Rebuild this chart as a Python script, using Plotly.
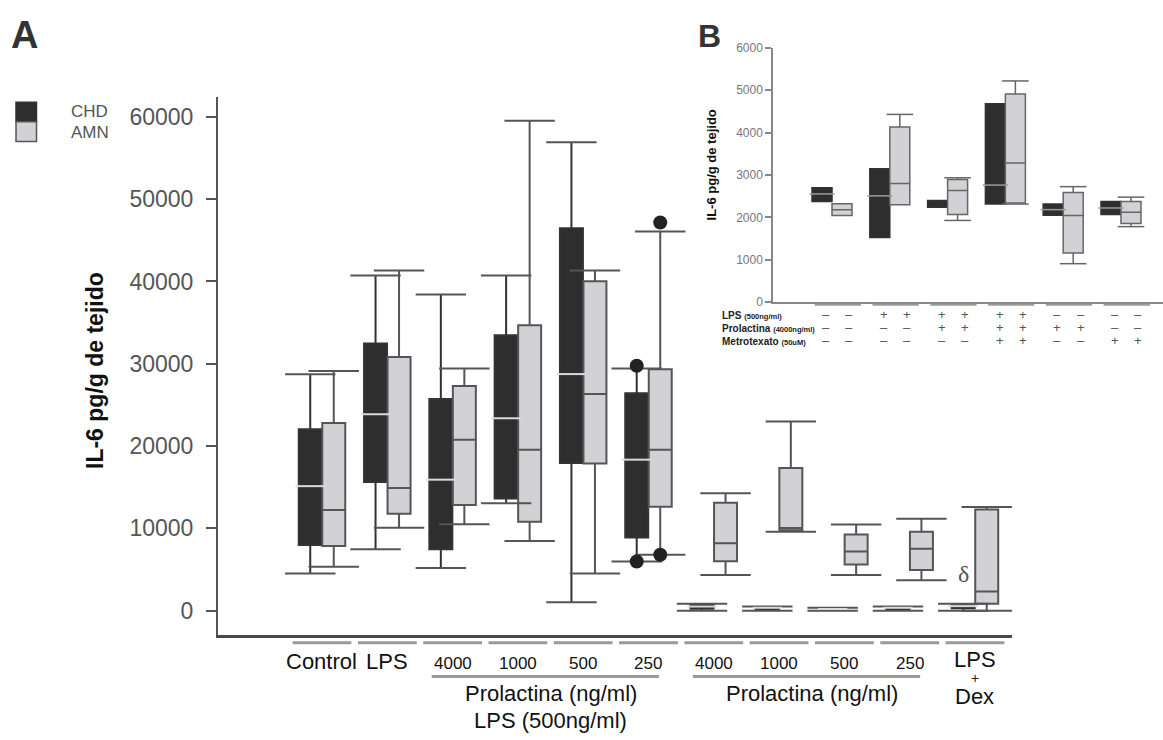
import plotly.graph_objects as go

W, H = 1163, 740

# ---------------- Panel A data (IL-6 pg/g de tejido) ----------------
groups_a = ["Control", "LPS", "4000", "1000", "500", "250",
            "4000", "1000", "500", "250", "LPS+Dex"]
chd_lo  = [4520, 7470, 5170, 13040, 1010, 5980, 0, 0, 0, 0, 0]
chd_q1  = [7990, 15650, 7470, 13640, 17940, 8880, 240, 150, 80, 150, 300]
chd_med = [15130, 23870, 15920, 23380, 28750, 18350, 500, 350, 200, 350, 550]
chd_q3  = [22060, 32460, 25720, 33460, 46480, 26410, 720, 450, 300, 450, 650]
chd_hi  = [28720, 40720, 38430, 40720, 56920, 29430, 830, 500, 350, 500, 830]

amn_lo  = [5330, 10090, 10490, 8470, 4520, 6790, 4330, 9580, 4330, 3700, 0]
amn_q1  = [7870, 11770, 12830, 10810, 17870, 12620, 6000, 9780, 5600, 4930, 830]
amn_med = [12230, 14920, 20770, 19550, 26330, 19550, 8190, 10060, 7190, 7510, 2340]
amn_q3  = [22790, 30840, 27300, 34670, 40040, 29350, 13120, 17330, 9260, 9580, 12290]
amn_hi  = [29110, 41330, 29430, 59540, 41330, 46090, 14270, 22980, 10460, 11170, 12600]

outlier_group = 5
chd_out = [29760, 5980]
amn_out = [47170, 6790]

delta_group = 10
delta_value = 4450

y_ticks_a = [0, 10000, 20000, 30000, 40000, 50000, 60000]

# ---------------- Panel B data ----------------
groups_b = ["G1", "G2", "G3", "G4", "G5", "G6"]
b_chd_lo  = [2376, 1524, 2237, 2313, 2051, 2065]
b_chd_q1  = [2376, 1524, 2237, 2313, 2051, 2065]
b_chd_med = [2552, 2506, 2399, 2761, 2181, 2220]
b_chd_q3  = [2700, 3148, 2399, 4680, 2313, 2376]
b_chd_hi  = [2700, 3148, 2399, 4680, 2313, 2376]

b_amn_lo  = [2042, 2297, 1926, 2313, 905, 1780]
b_amn_q1  = [2042, 2297, 2065, 2336, 1160, 1856]
b_amn_med = [2181, 2800, 2631, 3280, 2042, 2120]
b_amn_q3  = [2320, 4130, 2893, 4910, 2585, 2376]
b_amn_hi  = [2320, 4430, 2933, 5220, 2724, 2476]

y_ticks_b = [0, 1000, 2000, 3000, 4000, 5000, 6000]

row_labels_b = [("LPS", "(500ng/ml)"), ("Prolactina", "(4000ng/ml)"), ("Metrotexato", "(50uM)")]
lps_row = ["–", "+", "+", "+", "–", "–"]
prl_row = ["–", "–", "+", "+", "+", "–"]
mtx_row = ["–", "–", "–", "+", "–", "+"]

# ---------------- styling ----------------
FONT = "Liberation Sans, Arial, Helvetica, sans-serif"
DARK_FILL = "#2e2e2e"
LIGHT_FILL = "#d2d2d6"
GRAY = "#555555"


def px(xp):
    return xp / W


def py(yp):
    return 1 - yp / H


fig = go.Figure()

# ---------- Panel A boxes ----------
off_a, bw_a = 0.18, 0.352
xa = list(range(len(groups_a)))
x_chd = [i - off_a for i in xa]
x_amn = [i + off_a for i in xa]

fig.add_trace(go.Box(x=x_chd, q1=chd_q1, median=chd_med, q3=chd_q3,
                     lowerfence=chd_lo, upperfence=chd_hi, width=bw_a,
                     fillcolor=DARK_FILL, line=dict(color="#333333", width=2),
                     whiskerwidth=0, boxpoints=False, name="CHD",
                     xaxis="x", yaxis="y", showlegend=False))
fig.add_trace(go.Box(x=x_amn, q1=amn_q1, median=amn_med, q3=amn_q3,
                     lowerfence=amn_lo, upperfence=amn_hi, width=bw_a,
                     fillcolor=LIGHT_FILL, line=dict(color=GRAY, width=2),
                     whiskerwidth=0, boxpoints=False, name="AMN",
                     xaxis="x", yaxis="y", showlegend=False))

# whisker caps (wider than boxes)
cap_x = x_chd + x_chd + x_amn + x_amn
cap_y = chd_lo + chd_hi + amn_lo + amn_hi
fig.add_trace(go.Scatter(x=cap_x, y=cap_y, mode="markers", xaxis="x", yaxis="y",
                         marker=dict(symbol="line-ew", size=36, color=GRAY,
                                     line=dict(width=2, color=GRAY)),
                         hoverinfo="skip", showlegend=False))
# light median lines on dark boxes
med_x = [x for x, q1, m, q3 in zip(x_chd, chd_q1, chd_med, chd_q3) if q1 < m < q3]
med_y = [m for q1, m, q3 in zip(chd_q1, chd_med, chd_q3) if q1 < m < q3]
fig.add_trace(go.Scatter(x=med_x, y=med_y, mode="markers", xaxis="x", yaxis="y",
                         marker=dict(symbol="line-ew", size=21, color="#dadada",
                                     line=dict(width=2, color="#dadada")),
                         hoverinfo="skip", showlegend=False))
# outliers
fig.add_trace(go.Scatter(x=[outlier_group - off_a] * len(chd_out) + [outlier_group + off_a] * len(amn_out),
                         y=chd_out + amn_out, mode="markers", xaxis="x", yaxis="y",
                         marker=dict(symbol="circle", size=14, color="#222222"),
                         hoverinfo="skip", showlegend=False))

# ---------- Panel B boxes ----------
off_b, bw_b = 0.173, 0.346
xb = list(range(len(groups_b)))
xb_chd = [j - off_b for j in xb]
xb_amn = [j + off_b for j in xb]

fig.add_trace(go.Box(x=xb_chd, q1=b_chd_q1, median=b_chd_med, q3=b_chd_q3,
                     lowerfence=b_chd_lo, upperfence=b_chd_hi, width=bw_b,
                     fillcolor=DARK_FILL, line=dict(color="#333333", width=1.5),
                     whiskerwidth=0, boxpoints=False, name="CHD",
                     xaxis="x2", yaxis="y2", showlegend=False))
fig.add_trace(go.Box(x=xb_amn, q1=b_amn_q1, median=b_amn_med, q3=b_amn_q3,
                     lowerfence=b_amn_lo, upperfence=b_amn_hi, width=bw_b,
                     fillcolor=LIGHT_FILL, line=dict(color="#666666", width=1.5),
                     whiskerwidth=0, boxpoints=False, name="AMN",
                     xaxis="x2", yaxis="y2", showlegend=False))
bcap_x, bcap_y = [], []
for xs, lo, q1, q3, hi in [(xb_chd, b_chd_lo, b_chd_q1, b_chd_q3, b_chd_hi),
                           (xb_amn, b_amn_lo, b_amn_q1, b_amn_q3, b_amn_hi)]:
    for x, l, a, b, h in zip(xs, lo, q1, q3, hi):
        if l < a:
            bcap_x.append(x); bcap_y.append(l)
        if h > b:
            bcap_x.append(x); bcap_y.append(h)
fig.add_trace(go.Scatter(x=bcap_x, y=bcap_y, mode="markers", xaxis="x2", yaxis="y2",
                         marker=dict(symbol="line-ew", size=19, color="#666666",
                                     line=dict(width=1.5, color="#666666")),
                         hoverinfo="skip", showlegend=False))
bmed_x = [x for x, q1, m, q3 in zip(xb_chd, b_chd_q1, b_chd_med, b_chd_q3) if q1 < m < q3]
bmed_y = [m for q1, m, q3 in zip(b_chd_q1, b_chd_med, b_chd_q3) if q1 < m < q3]
fig.add_trace(go.Scatter(x=bmed_x, y=bmed_y, mode="markers", xaxis="x2", yaxis="y2",
                         marker=dict(symbol="line-ew", size=18, color="#9a9a9a",
                                     line=dict(width=1.5, color="#9a9a9a")),
                         hoverinfo="skip", showlegend=False))

# ---------- annotations & shapes ----------
ann = []
shapes = []

# panel letters
ann.append(dict(text="<b>A</b>", x=px(9), y=py(29), xref="paper", yref="paper",
                xanchor="left", yanchor="middle", showarrow=False,
                font=dict(size=38, color="#333333", family=FONT)))
ann.append(dict(text="<b>B</b>", x=px(696), y=py(30), xref="paper", yref="paper",
                xanchor="left", yanchor="middle", showarrow=False,
                font=dict(size=32, color="#333333", family=FONT)))

# legend
shapes.append(dict(type="rect", xref="paper", yref="paper", x0=px(16), x1=px(36.5),
                   y0=py(117), y1=py(97), fillcolor=DARK_FILL, line=dict(color="#333333", width=1.5)))
shapes.append(dict(type="rect", xref="paper", yref="paper", x0=px(16), x1=px(36.5),
                   y0=py(137), y1=py(117), fillcolor=LIGHT_FILL, line=dict(color=GRAY, width=1.5)))
for name, yy in [("CHD", 106.5), ("AMN", 127.5)]:
    ann.append(dict(text=name, x=px(69), y=py(yy), xref="paper", yref="paper",
                    xanchor="left", yanchor="middle", showarrow=False,
                    font=dict(size=17, color=GRAY, family=FONT)))

# main y title
ann.append(dict(text="<b>IL-6 pg/g de tejido</b>", x=px(95), y=py(371), xref="paper", yref="paper",
                xanchor="center", yanchor="middle", textangle=-90, showarrow=False,
                font=dict(size=23, color="#111111", family=FONT)))

# group separators under the x axis
for i in xa:
    shapes.append(dict(type="line", xref="x", yref="paper", x0=i - 0.45, x1=i + 0.45,
                       y0=py(648), y1=py(648), line=dict(color="#9a9a9a", width=3)))

# category labels
for i, g in enumerate(groups_a):
    if g == "LPS+Dex":
        ann.append(dict(text="LPS", x=i, y=py(665), xref="x", yref="paper", showarrow=False,
                        xanchor="center", yanchor="middle", font=dict(size=22, color="#111111", family=FONT)))
        ann.append(dict(text="+", x=i, y=py(684), xref="x", yref="paper", showarrow=False,
                        xanchor="center", yanchor="middle", font=dict(size=14, color="#222222", family=FONT)))
        ann.append(dict(text="Dex", x=i, y=py(703), xref="x", yref="paper", showarrow=False,
                        xanchor="center", yanchor="middle", font=dict(size=22, color="#111111", family=FONT)))
    elif g in ("Control", "LPS"):
        ann.append(dict(text=g, x=i, y=py(667), xref="x", yref="paper", showarrow=False,
                        xanchor="center", yanchor="middle", font=dict(size=22, color="#111111", family=FONT)))
    else:
        ann.append(dict(text=g, x=i, y=py(669), xref="x", yref="paper", showarrow=False,
                        xanchor="center", yanchor="middle", font=dict(size=17, color="#111111", family=FONT)))

# bracket lines and group titles
for start, end in [(2, 5), (6, 9)]:
    shapes.append(dict(type="line", xref="x", yref="paper", x0=start - 0.32, x1=end + 0.16,
                       y0=py(682.5), y1=py(682.5), line=dict(color="#9a9a9a", width=3)))
    ann.append(dict(text="Prolactina (ng/ml)", x=(start + end) / 2, y=py(700), xref="x", yref="paper",
                    showarrow=False, xanchor="center", yanchor="middle",
                    font=dict(size=22, color="#111111", family=FONT)))
ann.append(dict(text="LPS (500ng/ml)", x=3.5, y=py(727), xref="x", yref="paper",
                showarrow=False, xanchor="center", yanchor="middle",
                font=dict(size=22, color="#111111", family=FONT)))

# delta mark
ann.append(dict(text="δ", x=delta_group - off_a, y=delta_value, xref="x", yref="y",
                showarrow=False, xanchor="center", yanchor="middle",
                font=dict(size=24, color=GRAY, family="Liberation Serif, DejaVu Serif, serif")))

# ---------- Panel B labels ----------
ann.append(dict(text="<b>IL-6 pg/g de tejido</b>", x=px(711.5), y=py(161), xref="paper", yref="paper",
                xanchor="center", yanchor="middle", textangle=-90, showarrow=False,
                font=dict(size=13, color="#111111", family=FONT)))
for j in xb:
    shapes.append(dict(type="line", xref="x2", yref="paper", x0=j + 0.1 - 0.4, x1=j + 0.1 + 0.4,
                       y0=py(303.5), y1=py(303.5), line=dict(color="#9a9a9a", width=2)))

row_y = [314, 327.5, 341]
for (main, sub), yy, row in zip(row_labels_b, row_y, [lps_row, prl_row, mtx_row]):
    ann.append(dict(text=f"<b>{main}</b> <b><span style='font-size:7.5px'>{sub}</span></b>",
                    x=px(720), y=py(yy), xref="paper", yref="paper", showarrow=False,
                    xanchor="left", yanchor="middle", font=dict(size=10, color="#222222", family=FONT)))
    for j, s in enumerate(row):
        for dx in (-0.2, 0.2):
            ann.append(dict(text=s, x=j + 0.1 + dx, y=py(yy - 1), xref="x2", yref="paper",
                            showarrow=False, xanchor="center", yanchor="middle",
                            font=dict(size=13, color="#555555", family=FONT)))

fig.update_layout(
    width=W, height=H,
    margin=dict(l=0, r=0, t=0, b=0),
    paper_bgcolor="white", plot_bgcolor="white",
    showlegend=False,
    boxmode="overlay",
    font=dict(family=FONT),
    xaxis=dict(domain=[px(218), px(1012)], range=[-1.5926, 10.567], anchor="y",
               showline=True, linecolor="#4a4a4a", linewidth=2.5, ticks="",
               showticklabels=False, showgrid=False, zeroline=False),
    yaxis=dict(domain=[py(640), py(92)], range=[-2945, 62390], anchor="x",
               tickvals=y_ticks_a, ticktext=[str(v) for v in y_ticks_a],
               ticks="outside", ticklen=10, tickwidth=2, tickcolor=GRAY,
               showline=True, linecolor=GRAY, linewidth=2,
               tickfont=dict(size=23, color=GRAY, family=FONT),
               ticklabelstandoff=8,
               showgrid=False, zeroline=False),
    xaxis2=dict(domain=[px(773), 1.0], range=[-1.021, 5.727], anchor="y2",
                showline=True, linecolor="#888888", linewidth=1.5, ticks="",
                showticklabels=False, showgrid=False, zeroline=False),
    yaxis2=dict(domain=[py(300.7), py(41.7)], range=[0, 6000], anchor="x2",
                tickvals=y_ticks_b, ticktext=[str(v) for v in y_ticks_b],
                ticks="outside", ticklen=6, tickwidth=1.5, tickcolor="#888888",
                showline=True, linecolor="#888888", linewidth=1.5,
                tickfont=dict(size=12, color="#777777", family=FONT),
                showgrid=False, zeroline=False),
    annotations=ann,
    shapes=shapes,
)

fig.write_html("out.html",
               config={"displayModeBar": False},
               post_script="document.body.style.margin='0';document.body.style.padding='0';"
                           "document.documentElement.style.overflow='hidden';")
